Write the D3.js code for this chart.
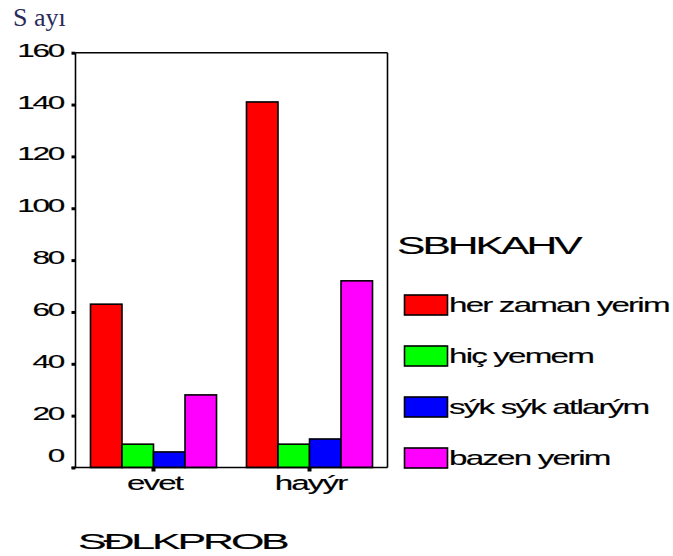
<!DOCTYPE html>
<html><head><meta charset="utf-8">
<script src="https://cdn.jsdelivr.net/npm/d3@7/dist/d3.min.js"></script>
<style>body{margin:0;background:#fff}svg{display:block}</style>
</head><body>
<script>
const categories = ["evet", "hayýr"];
const seriesNames = ["her zaman yerim", "hiç yemem", "sýk sýk atlarým", "bazen yerim"];
const seriesColors = ["#ff0000", "#00ff00", "#0000ff", "#ff00ff"];
const valHerZaman = [63, 141];
const valHicYemem = [9, 9];
const valSykSyk = [6, 11];
const valBazen = [28, 72];
const seriesValues = [valHerZaman, valHicYemem, valSykSyk, valBazen];
const yTicks = [0, 20, 40, 60, 80, 100, 120, 140, 160];
const yTitle = "S ayı";
const xTitle = "SÐLKPROB";
const legendTitle = "SBHKAHV";

const W = 673, H = 556;
const L = 75.5, R = 387.5, T = 52.7, B = 467.5;

const svg = d3.select("body").append("svg").attr("width", W).attr("height", H);

const x0 = d3.scaleBand().domain(categories).range([L, R]).paddingInner(0.192).paddingOuter(0.096);
const x1 = d3.scaleBand().domain(seriesNames).range([0, x0.bandwidth()]);
const y = d3.scaleLinear().domain([0, 160]).range([B, T]);

function stretchedText(g, tx, ty, txt, size, anchor, sx, ls) {
  return g.append("text")
    .attr("transform", `translate(${tx},${ty}) scale(${sx},1)`)
    .attr("font-family", "Liberation Sans, Arial, sans-serif")
    .attr("font-size", size)
    .attr("letter-spacing", ls)
    .attr("text-anchor", anchor || "start")
    .attr("fill", "#000")
    .attr("stroke", "#000").attr("stroke-width", 0.15)
    .text(txt);
}

// box top and right
svg.append("line").attr("x1", L).attr("x2", R).attr("y1", T).attr("y2", T).attr("stroke", "#000").attr("stroke-width", 1.6);
svg.append("line").attr("x1", R).attr("x2", R).attr("y1", T).attr("y2", B).attr("stroke", "#000").attr("stroke-width", 1.6);

// bars
const data = [];
categories.forEach((c, i) => seriesNames.forEach((s, j) => data.push({c, s, v: seriesValues[j][i], col: seriesColors[j]})));
svg.append("g").selectAll("rect").data(data).join("rect")
  .attr("x", d => x0(d.c) + x1(d.s))
  .attr("y", d => y(d.v))
  .attr("width", x1.bandwidth())
  .attr("height", d => B - y(d.v))
  .attr("fill", d => d.col)
  .attr("stroke", "#000")
  .attr("stroke-width", 1.6);

// y axis
const yAxis = svg.append("g").attr("transform", `translate(${L},0)`)
  .call(d3.axisLeft(y).tickValues(yTicks).tickSize(4).tickFormat(""));
yAxis.select(".domain").attr("stroke-width", 1.6).attr("d", `M0,${T}V${B}`);
yAxis.selectAll(".tick line").attr("stroke-width", 3);
yTicks.forEach(v => {
  const yy = y(v) + (v === 0 ? -6 : 4);
  stretchedText(svg, 63, yy, String(v), 18, "end", 1.75, -1.3);
});

// x axis
const xAxis = svg.append("g").attr("transform", `translate(0,${B})`)
  .call(d3.axisBottom(x0).tickSize(4).tickFormat(""));
xAxis.select(".domain").attr("stroke-width", 1.6).attr("d", `M${L - 4},0H${R}`);
xAxis.selectAll(".tick line").attr("stroke-width", 4);
categories.forEach(c => {
  stretchedText(svg, x0(c) + x0.bandwidth() / 2 + 1, 490, c, 19.5, "middle", 1.7, -1.1);
});

// titles
svg.append("text").attr("x", 13).attr("y", 26)
  .attr("font-family", "Liberation Serif, Times New Roman, serif").attr("font-size", 26)
  .attr("fill", "#2a2a5a").text(yTitle);
stretchedText(svg, 78, 549, xTitle, 22, "start", 1.95, -1.6);
stretchedText(svg, 397, 254, legendTitle, 23, "start", 1.85, -1.6);

// legend
const lg = svg.append("g");
seriesNames.forEach((s, j) => {
  const yy = 295 + j * 51;
  lg.append("rect").attr("x", 404.5).attr("y", yy).attr("width", 43).attr("height", 20)
    .attr("fill", seriesColors[j]).attr("stroke", "#000").attr("stroke-width", 1.6);
  stretchedText(lg, 449, yy + 17, s, 20, "start", 1.66, -1.1);
});
</script>
</body></html>
